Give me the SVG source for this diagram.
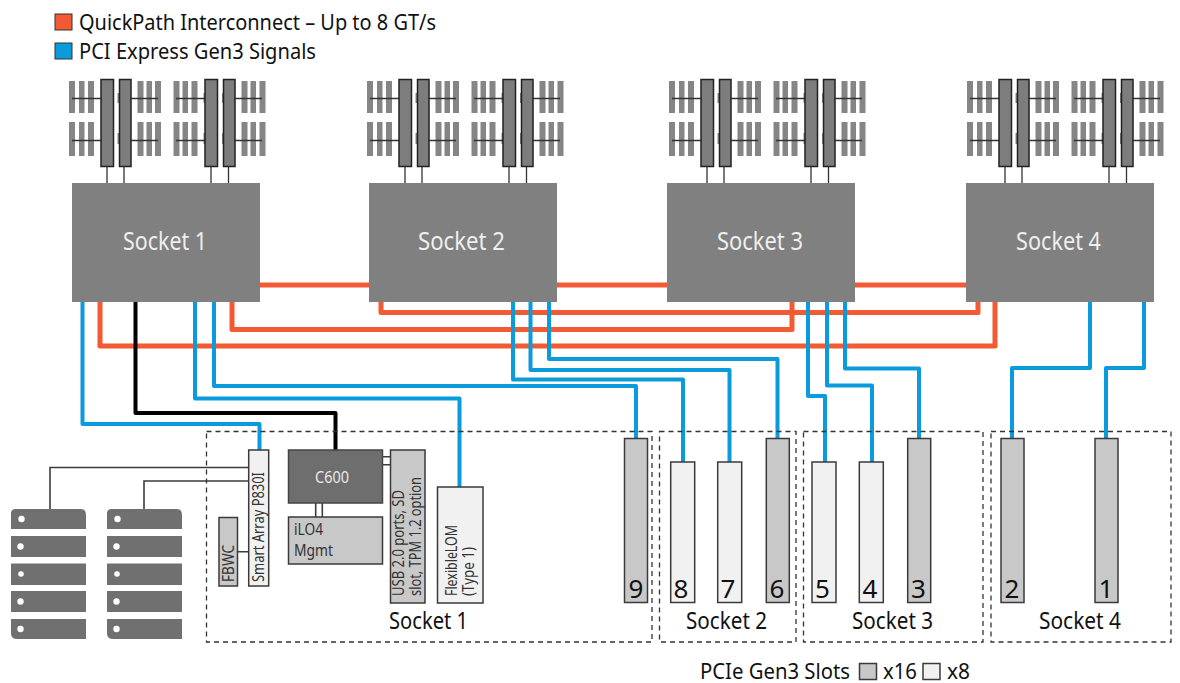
<svg xmlns="http://www.w3.org/2000/svg" xmlns:xlink="http://www.w3.org/1999/xlink" width="1180" height="683" viewBox="0 0 1180 683">
<style>
text{font-family:"Noto Sans","Open Sans","Liberation Sans",sans-serif;fill:#111}
.sock{fill:#808080}
.sl{font-size:25px;fill:#eeeeee;text-anchor:middle}
.red{fill:none;stroke:#f15a33;stroke-width:5;stroke-linejoin:round}
.blue{fill:none;stroke:#0a9bdc;stroke-width:4;stroke-linejoin:round}
.blk{fill:none;stroke:#000;stroke-width:4;stroke-linejoin:round}
.thin{fill:none;stroke:#3c3c3c;stroke-width:1.6}
.dash{fill:none;stroke:#333;stroke-width:1.3;stroke-dasharray:5 4}
.x16{fill:#c8c8c8;stroke:#3a3a3a;stroke-width:1.5}
.x8{fill:#f1f1f1;stroke:#3a3a3a;stroke-width:1.5}
.num{font-size:26px;text-anchor:middle}
.grp{font-size:23px;text-anchor:middle}
.small{font-size:16.500px;fill:#333}
.drive{fill:#707070}
.dot{fill:#fff}
.comb{fill:#858585}
.dimm{fill:#7d7d7d;stroke:#222;stroke-width:1.5}
.stem{stroke:#333;stroke-width:1.3;fill:none}
</style>
<defs>
<g id="mem">
<g class="comb">
<rect x="69" y="81" width="6" height="32"/><rect x="79" y="81" width="5.5" height="32"/><rect x="88" y="81" width="6" height="32"/>
<rect x="69" y="122" width="6" height="34"/><rect x="79" y="122" width="5.5" height="34"/><rect x="88" y="122" width="6" height="34"/>
<rect x="137.500" y="81" width="6" height="32"/><rect x="146.500" y="81" width="5.500" height="32"/><rect x="155" y="81" width="6" height="32"/>
<rect x="137.500" y="122" width="6" height="34"/><rect x="146.500" y="122" width="5.500" height="34"/><rect x="155" y="122" width="6" height="34"/>
<rect x="173.500" y="81" width="6" height="32"/><rect x="182.500" y="81" width="5.500" height="32"/><rect x="191.500" y="81" width="6" height="32"/>
<rect x="173.500" y="122" width="6" height="34"/><rect x="182.500" y="122" width="5.500" height="34"/><rect x="191.500" y="122" width="6" height="34"/>
<rect x="241.500" y="81" width="6" height="32"/><rect x="250.500" y="81" width="5.500" height="32"/><rect x="259.500" y="81" width="6" height="32"/>
<rect x="241.500" y="122" width="6" height="34"/><rect x="250.500" y="122" width="5.500" height="34"/><rect x="259.500" y="122" width="6" height="34"/>
<rect x="117.500" y="93" width="2" height="10"/><rect x="117.500" y="133" width="2" height="11"/>
<rect x="203.500" y="93" width="2" height="10"/><rect x="203.500" y="133" width="2" height="11"/>
<rect x="222" y="93" width="2" height="10"/><rect x="222" y="133" width="2" height="11"/>
</g>
<path class="stem" d="M72 98.500H101M72 140.500H101M131 98.500H158M131 140.500H158M176 98.500H205M176 140.500H205M235 98.500H262M235 140.500H262"/>
<rect class="dimm" x="101" y="79.500" width="12.500" height="87"/>
<rect class="dimm" x="119.500" y="79.500" width="11.500" height="87"/>
<rect class="dimm" x="205" y="79.500" width="12.500" height="87"/>
<rect class="dimm" x="223.500" y="79.500" width="11.500" height="87"/>
<path class="stem" d="M107 167V183M124 167V183M211 167V183M228.500 167V183"/>
</g>
<g id="drives">
<path class="drive" d="M11 529V513.500Q11 509 15.500 509H81Q86 509 86 515V529Z"/>
<rect class="drive" x="11" y="536" width="75" height="21"/>
<rect class="drive" x="11" y="563.500" width="75" height="21.500"/>
<rect class="drive" x="11" y="591" width="75" height="21"/>
<path class="drive" d="M11 619H86V639H17Q11 639 11 633Z"/>
<circle class="dot" cx="21.500" cy="519" r="3.200"/><circle class="dot" cx="20.500" cy="546.500" r="3.200"/><circle class="dot" cx="21" cy="574" r="2.800"/><circle class="dot" cx="20.500" cy="601.500" r="3.200"/><circle class="dot" cx="20.500" cy="629" r="3.200"/>
</g>
</defs>

<g id="legend">
<rect x="55" y="14" width="17" height="16" fill="#f15a33" stroke="#333" stroke-width="1"/>
<text x="79" y="30" font-size="22" textLength="357" lengthAdjust="spacingAndGlyphs">QuickPath Interconnect – Up to 8 GT/s</text>
<rect x="55" y="43" width="17" height="16" fill="#0a9bdc" stroke="#333" stroke-width="1"/>
<text x="79" y="59" font-size="22" textLength="237" lengthAdjust="spacingAndGlyphs">PCI Express Gen3 Signals</text>
</g>

<g id="connectors">
<path class="red" d="M258 285H968"/>
<path class="red" d="M381 300V312.500H978V300"/>
<path class="red" d="M232 300V329.500H792V300"/>
<path class="red" d="M100 300V346H995V300"/>
<path class="blk" d="M135.500 302V413H335.500V450"/>
<path class="blue" d="M82.500 302V424H259.500V450"/>
<path class="blue" d="M195 302V398.500H459.500V487"/>
<path class="blue" d="M214 302V386H636V438"/>
<path class="blue" d="M513 302V379.500H683V462"/>
<path class="blue" d="M530.500 302V370H729.500V462"/>
<path class="blue" d="M549 302V359H777.500V438"/>
<path class="blue" d="M808 302V396H825V462"/>
<path class="blue" d="M827 302V385.500H872V462"/>
<path class="blue" d="M845 302V368.500H919V438"/>
<path class="blue" d="M1090 302V368H1012V438"/>
<path class="blue" d="M1144 302V368H1106V438"/>
<path class="thin" d="M249 467.500H50V510M249 481H144V510M238 551.700H249"/>
<path class="thin" d="M383 456.700H390M383 464.700H390M315.700 503V517M322.300 503V517"/>
</g>

<g id="socket1"><use href="#mem"/><rect class="sock" x="72" y="183" width="188" height="119"/><text class="sl" x="165" y="250" textLength="84" lengthAdjust="spacingAndGlyphs">Socket 1</text></g>
<g id="socket2"><use href="#mem" x="298"/><rect class="sock" x="369" y="183" width="188" height="119"/><text class="sl" x="461.500" y="250" textLength="87" lengthAdjust="spacingAndGlyphs">Socket 2</text></g>
<g id="socket3"><use href="#mem" x="600"/><rect class="sock" x="667" y="183" width="188" height="119"/><text class="sl" x="760" y="250" textLength="86" lengthAdjust="spacingAndGlyphs">Socket 3</text></g>
<g id="socket4"><use href="#mem" x="898"/><rect class="sock" x="966" y="183" width="188" height="119"/><text class="sl" x="1058.500" y="250" textLength="85" lengthAdjust="spacingAndGlyphs">Socket 4</text></g>

<g id="drives1"><use href="#drives"/></g>
<g id="drives2"><use href="#drives" x="96"/></g>

<g id="group-socket1"><rect class="dash" x="206.500" y="431.500" width="445.500" height="210.500"/><text class="grp" x="428.500" y="629" textLength="79" lengthAdjust="spacingAndGlyphs">Socket 1</text></g>
<g id="group-socket2"><rect class="dash" x="659.500" y="431.500" width="136.500" height="210.500"/><text class="grp" x="726.500" y="629" textLength="81" lengthAdjust="spacingAndGlyphs">Socket 2</text></g>
<g id="group-socket3"><rect class="dash" x="803.500" y="431.500" width="179.500" height="210.500"/><text class="grp" x="892.500" y="629" textLength="81" lengthAdjust="spacingAndGlyphs">Socket 3</text></g>
<g id="group-socket4"><rect class="dash" x="991" y="431.500" width="180" height="210.500"/><text class="grp" x="1080" y="629" textLength="82" lengthAdjust="spacingAndGlyphs">Socket 4</text></g>

<g id="smartarray"><rect class="x8" x="248.700" y="450" width="20" height="136"/><text class="small" transform="translate(264,582) rotate(-90)" textLength="110" lengthAdjust="spacingAndGlyphs">Smart Array P830I</text></g>
<g id="fbwc"><rect class="x16" x="219" y="517.500" width="18.500" height="68.500"/><text class="small" transform="translate(233.500,582) rotate(-90)" textLength="37" lengthAdjust="spacingAndGlyphs">FBWC</text></g>
<g id="c600"><rect x="288.500" y="450" width="94" height="53" fill="#6e6e6e" stroke="#444" stroke-width="1.500"/><text x="332" y="483" font-size="17" text-anchor="middle" style="fill:#e8e8e8" textLength="34" lengthAdjust="spacingAndGlyphs">C600</text></g>
<g id="ilo"><rect class="x16" x="288.500" y="517" width="94" height="47"/><text class="small" x="294" y="535" style="font-size:17px" textLength="29" lengthAdjust="spacingAndGlyphs">iLO4</text><text class="small" x="294" y="556" style="font-size:17px" textLength="39" lengthAdjust="spacingAndGlyphs">Mgmt</text></g>
<g id="usb"><rect class="x16" x="390.500" y="450" width="34.500" height="153"/><text class="small" transform="translate(404,596) rotate(-90)" textLength="106" lengthAdjust="spacingAndGlyphs">USB 2.0 ports, SD</text><text class="small" transform="translate(421,596) rotate(-90)" textLength="119" lengthAdjust="spacingAndGlyphs">slot, TPM 1.2 option</text></g>
<g id="flexlom"><rect class="x8" x="437.500" y="487" width="45.500" height="116"/><text class="small" transform="translate(456.500,596) rotate(-90)" textLength="71" lengthAdjust="spacingAndGlyphs">FlexibleLOM</text><text class="small" transform="translate(473.500,596) rotate(-90)" textLength="49" lengthAdjust="spacingAndGlyphs">(Type 1)</text></g>

<g id="slot9"><rect class="x16" x="624.500" y="438.500" width="23" height="164"/><text class="num" x="636" y="598">9</text></g>
<g id="slot8"><rect class="x8" x="670.700" y="462" width="24" height="140.500"/><text class="num" x="681" y="598">8</text></g>
<g id="slot7"><rect class="x8" x="717.700" y="462" width="24" height="140.500"/><text class="num" x="728" y="598">7</text></g>
<g id="slot6"><rect class="x16" x="766.300" y="438.500" width="23" height="164"/><text class="num" x="777" y="598">6</text></g>
<g id="slot5"><rect class="x8" x="812" y="462" width="24" height="140.500"/><text class="num" x="822.500" y="598">5</text></g>
<g id="slot4"><rect class="x8" x="859.300" y="462" width="24" height="140.500"/><text class="num" x="870" y="598">4</text></g>
<g id="slot3"><rect class="x16" x="907.700" y="438.500" width="23" height="164"/><text class="num" x="918.500" y="598">3</text></g>
<g id="slot2"><rect class="x16" x="1001" y="438.500" width="23" height="164"/><text class="num" x="1012" y="598">2</text></g>
<g id="slot1"><rect class="x16" x="1095" y="438.500" width="23" height="164"/><text class="num" x="1106" y="598">1</text></g>

<g id="slot-legend">
<text x="700" y="679" font-size="22" textLength="150" lengthAdjust="spacingAndGlyphs">PCIe Gen3 Slots</text>
<rect class="x16" x="859.500" y="663.500" width="17" height="16"/>
<text x="883" y="679" font-size="22" textLength="34" lengthAdjust="spacingAndGlyphs">x16</text>
<rect class="x8" x="923" y="663.500" width="17" height="16"/>
<text x="947" y="679" font-size="22" textLength="23" lengthAdjust="spacingAndGlyphs">x8</text>
</g>
</svg>
